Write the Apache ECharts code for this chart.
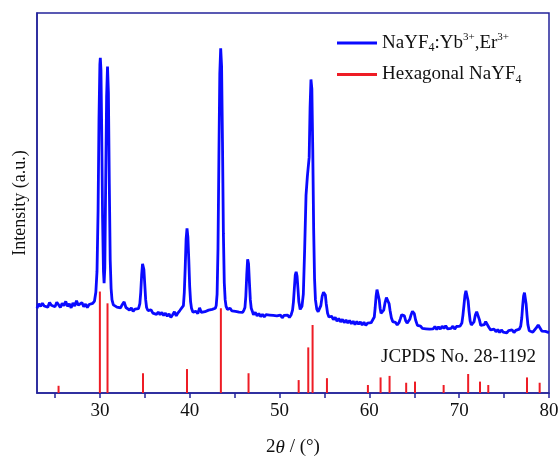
<!DOCTYPE html>
<html>
<head>
<meta charset="utf-8">
<script src="https://cdn.jsdelivr.net/npm/echarts@6/dist/echarts.min.js"></script>
<style>
  html, body { margin: 0; padding: 0; background: #fff; }
  #chart { width: 558px; height: 456px; }
</style>
</head>
<body>
<div id="chart"></div>
<script>
// 2θ tick positions and labels
const tickValues = [25, 30, 35, 40, 45, 50, 55, 60, 65, 70, 75, 80];
const labelValues = [30, 40, 50, 60, 70, 80];

// measured XRD pattern: [2θ, intensity]
const sampleData = [
  [23.0, 22.3], [23.2, 23.5], [23.4, 22.8], [23.6, 23.6], [23.8, 22.9], [24.0, 23.4], [24.2, 22.6], [24.4, 23.8],
  [24.6, 23.1], [24.8, 23.5], [25.0, 22.7], [25.2, 23.9], [25.4, 23.2], [25.6, 22.5], [25.8, 23.6], [26.0, 23.0],
  [26.2, 24.1], [26.4, 22.8], [26.6, 23.5], [26.8, 22.4], [27.0, 23.7], [27.2, 22.9], [27.4, 24.3], [27.6, 23.1],
  [27.8, 22.6], [28.0, 23.8], [28.2, 22.7], [28.4, 23.4], [28.6, 22.5], [28.8, 23.3], [29.0, 22.8], [29.2, 23.6],
  [29.4, 24.2], [29.55, 26.5], [29.68, 32], [29.8, 48], [29.9, 72], [30.0, 86.5], [30.05, 88.2], [30.12, 85],
  [30.2, 70], [30.3, 46], [30.4, 32], [30.47, 28.9], [30.55, 33], [30.65, 56], [30.75, 78], [30.85, 85.9],
  [30.95, 79], [31.05, 55], [31.15, 35], [31.25, 27.5], [31.35, 24.5], [31.5, 23.2], [31.7, 23.5], [31.9, 22.6],
  [32.1, 23.1], [32.3, 22.4], [32.5, 23.3], [32.7, 24.0], [32.9, 22.5], [33.1, 22.9], [33.3, 21.8], [33.5, 22.4],
  [33.7, 21.5], [33.9, 22.1], [34.1, 21.6], [34.3, 22.2], [34.45, 23.5], [34.55, 26.5], [34.65, 31.0], [34.75, 34.0],
  [34.82, 34.3], [34.9, 32.5], [35.0, 28.5], [35.1, 24.5], [35.2, 22.5], [35.35, 21.7], [35.5, 21.2], [35.7, 21.9],
  [35.9, 21.0], [36.1, 21.5], [36.3, 20.7], [36.5, 21.3], [36.7, 20.6], [36.9, 21.2], [37.1, 20.4], [37.3, 21.0],
  [37.5, 20.2], [37.7, 20.8], [37.9, 19.9], [38.1, 20.6], [38.3, 21.4], [38.5, 20.3], [38.7, 21.1], [38.9, 21.7],
  [39.1, 21.2], [39.3, 23.0], [39.4, 26.5], [39.5, 33], [39.6, 40.5], [39.7, 43.3], [39.8, 41], [39.9, 35],
  [40.0, 28], [40.1, 24], [40.2, 22.3], [40.35, 21.3], [40.5, 20.8], [40.7, 21.5], [40.9, 20.9], [41.1, 22.4],
  [41.3, 21.2], [41.5, 20.7], [41.7, 21.4], [41.9, 21.0], [42.1, 21.8], [42.3, 21.3], [42.5, 22.0], [42.7, 21.6],
  [42.85, 22.3], [42.95, 23.0], [43.05, 26], [43.15, 38], [43.25, 62], [43.35, 84], [43.45, 90.7], [43.55, 86],
  [43.65, 66], [43.75, 42], [43.85, 29], [43.95, 24.5], [44.05, 22.8], [44.2, 22.0], [44.35, 21.8], [44.5, 22.3],
  [44.7, 21.6], [44.9, 22.1], [45.1, 21.5], [45.3, 22.0], [45.5, 21.3], [45.7, 21.8], [45.9, 21.2], [46.05, 21.9],
  [46.15, 22.5], [46.25, 25.5], [46.35, 31], [46.45, 35.2], [46.55, 34], [46.65, 29], [46.75, 24.5], [46.85, 22.3],
  [47.0, 21.3], [47.1, 20.6], [47.3, 21.2], [47.5, 20.3], [47.7, 20.9], [47.9, 20.1], [48.1, 20.7], [48.3, 20.0],
  [48.5, 20.6], [48.7, 20.2], [48.9, 20.5], [49.1, 20.0], [49.3, 20.4], [49.5, 19.9], [49.7, 20.3], [49.9, 20.0],
  [50.1, 20.5], [50.3, 19.8], [50.5, 20.4], [50.7, 20.0], [50.9, 20.5], [51.1, 19.9], [51.3, 20.6], [51.45, 21.8],
  [51.55, 24], [51.65, 27.5], [51.75, 31], [51.85, 31.9], [51.95, 30.8], [52.05, 27.5], [52.15, 24], [52.3, 22.0],
  [52.4, 21.9], [52.5, 22.8], [52.65, 26], [52.8, 38], [52.95, 52], [53.1, 57], [53.2, 57.5], [53.3, 62],
  [53.4, 75], [53.5, 82.5], [53.6, 80], [53.7, 64], [53.8, 43], [53.9, 30], [54.0, 24.5], [54.15, 22.0],
  [54.3, 21.4], [54.45, 21.8], [54.6, 23.0], [54.75, 25.5], [54.9, 26.5], [55.0, 26.7], [55.1, 25.8], [55.2, 23.5],
  [55.35, 21.0], [55.5, 20.0], [55.65, 19.6], [55.8, 20.2], [56.0, 19.3], [56.2, 19.9], [56.4, 18.9], [56.6, 19.6],
  [56.8, 18.7], [57.0, 19.4], [57.2, 18.5], [57.4, 19.2], [57.6, 18.4], [57.8, 19.1], [58.0, 18.2], [58.2, 18.9],
  [58.4, 18.0], [58.6, 18.8], [58.8, 18.1], [59.0, 18.7], [59.2, 17.9], [59.4, 18.6], [59.6, 17.8], [59.8, 18.4],
  [60.0, 18.0], [60.2, 18.5], [60.4, 18.6], [60.55, 20.0], [60.65, 22.5], [60.75, 25.5], [60.85, 27.2], [60.92, 27.5],
  [61.0, 26.8], [61.1, 24.5], [61.2, 22.3], [61.3, 21.0], [61.45, 20.6], [61.6, 21.8], [61.75, 23.8], [61.9, 25.1],
  [62.0, 25.5], [62.1, 25.0], [62.2, 23.5], [62.3, 21.8], [62.45, 19.8], [62.6, 18.8], [62.75, 18.3], [62.9, 18.6],
  [63.1, 17.9], [63.3, 18.5], [63.45, 19.5], [63.6, 20.6], [63.75, 21.0], [63.9, 20.3], [64.05, 19.0], [64.2, 18.4],
  [64.35, 18.7], [64.5, 19.4], [64.65, 20.6], [64.8, 21.5], [64.9, 21.7], [65.0, 20.9], [65.15, 19.2], [65.35, 17.8],
  [65.5, 17.3], [65.7, 17.6], [65.9, 17.0], [66.1, 17.5], [66.3, 16.9], [66.5, 17.4], [66.7, 16.8], [66.9, 17.3],
  [67.1, 16.9], [67.3, 17.5], [67.5, 16.7], [67.7, 17.4], [67.9, 16.8], [68.1, 17.6], [68.3, 17.0], [68.5, 17.7],
  [68.7, 16.9], [68.9, 17.4], [69.1, 17.0], [69.3, 17.6], [69.5, 16.8], [69.7, 17.5], [69.9, 17.1], [70.1, 17.6],
  [70.3, 18.4], [70.42, 20.5], [70.55, 23.5], [70.65, 25.8], [70.75, 26.9], [70.82, 27.1], [70.9, 26.4], [71.0, 24.2],
  [71.1, 21.5], [71.22, 19.0], [71.35, 17.9], [71.5, 17.8], [71.65, 18.7], [71.8, 20.5], [71.95, 21.4], [72.1, 20.9],
  [72.25, 19.3], [72.4, 17.8], [72.6, 17.3], [72.8, 18.0], [72.95, 18.8], [73.1, 18.5], [73.3, 17.3], [73.5, 16.6],
  [73.7, 16.2], [73.9, 16.8], [74.1, 16.1], [74.3, 16.7], [74.5, 15.9], [74.7, 16.6], [74.9, 16.0], [75.1, 16.5],
  [75.3, 15.8], [75.5, 16.4], [75.7, 16.0], [75.9, 16.6], [76.1, 15.9], [76.3, 16.5], [76.5, 16.1], [76.7, 16.8],
  [76.85, 17.6], [76.97, 19.8], [77.07, 23.0], [77.17, 25.5], [77.27, 26.4], [77.35, 26.0], [77.45, 23.5], [77.55, 20.5],
  [77.65, 18.0], [77.8, 16.4], [78.0, 16.4], [78.2, 16.0], [78.4, 16.6], [78.6, 17.2], [78.8, 17.9], [79.0, 17.5],
  [79.2, 16.3], [79.4, 15.8], [79.6, 16.2], [79.8, 15.7], [80.0, 15.9]
];

// JCPDS No. 28-1192 reference sticks
const refPositions = [25.4, 30.0, 30.85, 34.8, 39.7, 43.47, 46.55, 52.13, 53.2, 53.68, 55.28, 59.84,
  61.25, 62.25, 64.1, 65.08, 68.27, 71.0, 72.32, 73.24, 77.55, 78.96];
const refHeights = [1.9, 26.7, 23.6, 5.2, 6.3, 22.3, 5.2, 3.4, 12.0, 17.9, 3.9, 2.1,
  4.1, 4.5, 2.7, 3.0, 2.1, 5.0, 3.0, 2.1, 4.1, 2.7];

const sampleName = 'NaYF4:Yb3+,Er3+';
const refName = 'Hexagonal NaYF4';

const axisColor = '#23239a';
const serif = 'Liberation Serif';

const myChart = echarts.init(document.getElementById('chart'));

const option = {
  backgroundColor: '#fff',
  animation: false,
  grid: {
    left: 37,
    right: 9,
    top: 13,
    bottom: 63,
    outerBoundsMode: 'none',
    show: true,
    borderColor: axisColor,
    borderWidth: 1.5
  },
  legend: {
    orient: 'vertical',
    left: 337,
    top: 32,
    padding: 0,
    itemWidth: 40,
    itemHeight: 3,
    itemGap: 11,
    icon: 'rect',
    data: [sampleName, refName],
    formatter: function (name) {
      if (name === sampleName) {
        return '{a|NaYF}{b|4}{a|:Yb}{c|3+}{a|,Er}{c|3+}';
      }
      return '{a|Hexagonal NaYF}{b|4}';
    },
    textStyle: {
      color: '#111',
      fontFamily: serif,
      rich: {
        a: { fontSize: 19, fontFamily: serif, color: '#111', lineHeight: 22 },
        b: { fontSize: 12, fontFamily: serif, color: '#111', lineHeight: 12, verticalAlign: 'bottom' },
        c: { fontSize: 11, fontFamily: serif, color: '#111', lineHeight: 12, verticalAlign: 'top' }
      }
    }
  },
  graphic: [
    {
      type: 'text',
      right: 22,
      top: 348,
      style: {
        text: 'JCPDS No. 28-1192',
        font: '19px "Liberation Serif"',
        fill: '#111'
      }
    }
  ],
  xAxis: {
    type: 'value',
    min: 23,
    max: 80,
    name: '{n|2}{i|θ}{n| / (°)}',
    nameLocation: 'middle',
    nameGap: 45,
    nameTextStyle: {
      rich: {
        n: { fontSize: 19, fontFamily: serif, color: '#111' },
        i: { fontSize: 19, fontFamily: serif, fontStyle: 'italic', color: '#111' }
      }
    },
    axisLine: { show: true, lineStyle: { color: axisColor, width: 1.5 } },
    axisTick: { show: true, length: 5, customValues: tickValues, lineStyle: { color: axisColor, width: 1.5 } },
    axisLabel: {
      customValues: labelValues,
      margin: 9,
      color: '#111',
      fontSize: 19,
      fontFamily: serif
    },
    splitLine: { show: false }
  },
  yAxis: {
    type: 'value',
    min: 0,
    max: 100,
    name: 'Intensity (a.u.)',
    nameLocation: 'middle',
    nameGap: 8,
    nameTextStyle: { color: '#111', fontSize: 18, fontFamily: serif },
    axisLine: { show: true, lineStyle: { color: axisColor, width: 1.5 } },
    axisTick: { show: false },
    axisLabel: { show: false },
    splitLine: { show: false }
  },
  series: [
    {
      name: sampleName,
      type: 'line',
      data: sampleData,
      symbol: 'none',
      smooth: false,
      lineStyle: { color: '#0a0aff', width: 2.8 },
      itemStyle: { color: '#0a0aff' },
      z: 2
    },
    {
      name: refName,
      type: 'bar',
      data: refPositions.map((p, i) => [p, refHeights[i]]),
      barWidth: 2,
      itemStyle: { color: '#ee1c25' },
      z: 3
    }
  ]
};

myChart.setOption(option);
</script>
</body>
</html>
